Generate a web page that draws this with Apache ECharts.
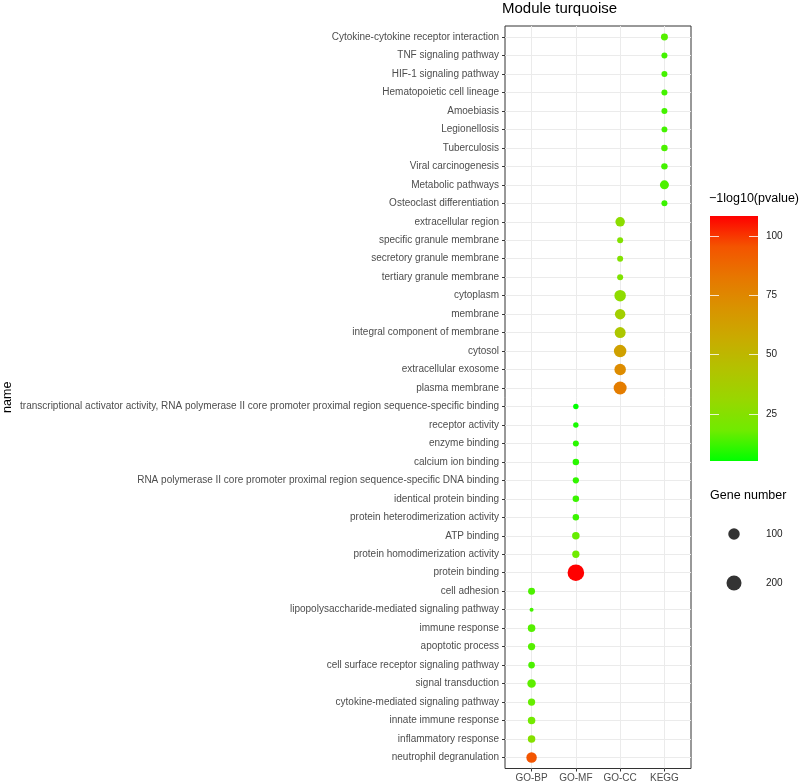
<!DOCTYPE html>
<html>
<head>
<meta charset="utf-8">
<script src="https://cdn.jsdelivr.net/npm/echarts@6/dist/echarts.min.js"></script>
<style>
html,body{margin:0;padding:0;background:#fff;}
#chart{width:800px;height:783px;}
</style>
</head>
<body>
<div id="chart"></div>
<script>
// ---------- data ----------
const groups = ['GO-BP', 'GO-MF', 'GO-CC', 'KEGG'];

// terms listed top to bottom
const termNames = [
  'Cytokine-cytokine receptor interaction',
  'TNF signaling pathway',
  'HIF-1 signaling pathway',
  'Hematopoietic cell lineage',
  'Amoebiasis',
  'Legionellosis',
  'Tuberculosis',
  'Viral carcinogenesis',
  'Metabolic pathways',
  'Osteoclast differentiation',
  'extracellular region',
  'specific granule membrane',
  'secretory granule membrane',
  'tertiary granule membrane',
  'cytoplasm',
  'membrane',
  'integral component of membrane',
  'cytosol',
  'extracellular exosome',
  'plasma membrane',
  'transcriptional activator activity, RNA polymerase II core promoter proximal region sequence-specific binding',
  'receptor activity',
  'enzyme binding',
  'calcium ion binding',
  'RNA polymerase II core promoter proximal region sequence-specific DNA binding',
  'identical protein binding',
  'protein heterodimerization activity',
  'ATP binding',
  'protein homodimerization activity',
  'protein binding',
  'cell adhesion',
  'lipopolysaccharide-mediated signaling pathway',
  'immune response',
  'apoptotic process',
  'cell surface receptor signaling pathway',
  'signal transduction',
  'cytokine-mediated signaling pathway',
  'innate immune response',
  'inflammatory response',
  'neutrophil degranulation'
];

const termGroups = [
  'KEGG','KEGG','KEGG','KEGG','KEGG','KEGG','KEGG','KEGG','KEGG','KEGG',
  'GO-CC','GO-CC','GO-CC','GO-CC','GO-CC','GO-CC','GO-CC','GO-CC','GO-CC','GO-CC',
  'GO-MF','GO-MF','GO-MF','GO-MF','GO-MF','GO-MF','GO-MF','GO-MF','GO-MF','GO-MF',
  'GO-BP','GO-BP','GO-BP','GO-BP','GO-BP','GO-BP','GO-BP','GO-BP','GO-BP','GO-BP'
];

// -log10(pvalue)
const logP = [
  15, 13, 13, 13, 13, 13, 14, 13, 14, 12,
  27, 24, 24, 23, 28, 36, 41, 62, 73, 80,
  5.2, 8, 10, 10, 11, 12, 12, 17, 18, 108.4,
  14, 13, 15, 15, 14, 16, 17, 19, 25, 95
];

// Gene number
const geneCount = [
  25, 16, 16, 16, 16, 15, 20, 20, 52, 16,
  60, 16, 16, 16, 101, 79, 90, 126, 101, 139,
  12, 12, 16, 20, 18, 20, 20, 31, 28, 255,
  25, 6, 31, 28, 22, 44, 28, 31, 31, 79
];

const colorTicks = [25, 50, 75, 100];
const sizeLegend = [100, 200];

// ---------- styling helpers ----------
const FONT = 'Liberation Sans, Arial, Helvetica, sans-serif';
const colorStops = ['#00FF00', '#70EB00', '#98D700', '#B3C200', '#C9AB00', '#D99300', '#E77700', '#F45400', '#FF0000'];
const scoreMin = Math.min(...logP);
const scoreMax = Math.max(...logP);
function sizeOf(n) {
  return 3.2 + 14.3 * Math.sqrt(Math.max(n - 5, 0) / 285);
}

const pointData = termNames.map((name, i) => [groups.indexOf(termGroups[i]), i, logP[i], geneCount[i], name]);
const termIdx = termNames.map((_, i) => i);
const groupIdx = groups.map((_, i) => i);

const chart = echarts.init(document.getElementById('chart'), null, { renderer: 'canvas' });

const option = {
  backgroundColor: '#ffffff',
  animation: false,
  textStyle: { fontFamily: FONT },
  title: [
    { text: 'Module turquoise', left: 502, top: 1, padding: 0,
      textStyle: { fontSize: 15, fontWeight: 'normal', color: '#000', fontFamily: FONT } },
    { text: '\u22121log10(pvalue)', left: 709, top: 192, padding: 0,
      textStyle: { fontSize: 12.5, fontWeight: 'normal', color: '#000', fontFamily: FONT } },
    { text: 'Gene number', left: 710, top: 489, padding: 0,
      textStyle: { fontSize: 12.5, fontWeight: 'normal', color: '#000', fontFamily: FONT } }
  ],
  grid: [
    { left: 502, right: 109, top: 26, bottom: 14, show: true, borderColor: '#333333', borderWidth: 1, backgroundColor: 'transparent' },
    { left: 710, width: 48, top: 216, height: 245 },
    { left: 710, width: 48, top: 509.5, height: 98 }
  ],
  xAxis: [
    { type: 'value', gridIndex: 0, min: -0.6, max: 3.6,
      axisLine: { show: false, onZero: false },
      axisTick: { show: true, length: 3, customValues: groupIdx, lineStyle: { color: '#333333' } },
      axisLabel: { customValues: groupIdx, formatter: v => groups[v] || '', margin: 4.5, fontSize: 10, color: '#4D4D4D', fontFamily: FONT },
      splitLine: { show: true, lineStyle: { color: '#EBEBEB', width: 1 } } },
    { type: 'category', gridIndex: 1, data: [''], show: false },
    { type: 'category', gridIndex: 2, data: [''], show: false }
  ],
  yAxis: [
    { type: 'value', gridIndex: 0, inverse: true, min: -0.6, max: termNames.length - 0.4,
      name: 'name', nameLocation: 'middle', nameRotate: 90, nameGap: 491,
      nameTextStyle: { fontSize: 12.5, color: '#000', fontFamily: FONT },
      axisLine: { show: false, onZero: false },
      axisTick: { show: true, length: 3, customValues: termIdx, lineStyle: { color: '#333333' } },
      axisLabel: { customValues: termIdx, formatter: v => termNames[v] || '', margin: 6, fontSize: 10, color: '#4D4D4D', fontFamily: FONT },
      splitLine: { show: true, lineStyle: { color: '#EBEBEB', width: 1 } } },
    { type: 'value', gridIndex: 1, position: 'right', min: scoreMin, max: scoreMax, z: 10,
      axisLine: { show: false },
      axisTick: { show: true, inside: true, length: 9, customValues: colorTicks, lineStyle: { color: 'rgba(255,255,255,0.8)', width: 1 } },
      axisLabel: { customValues: colorTicks, margin: 8, fontSize: 10, color: '#1a1a1a', fontFamily: FONT },
      splitLine: { show: false } },
    { type: 'value', gridIndex: 1, position: 'left', min: scoreMin, max: scoreMax, z: 10,
      axisLine: { show: false },
      axisTick: { show: true, inside: true, length: 9, customValues: colorTicks, lineStyle: { color: 'rgba(255,255,255,0.8)', width: 1 } },
      axisLabel: { show: false },
      splitLine: { show: false } },
    { type: 'category', gridIndex: 2, position: 'right', inverse: true, data: sizeLegend.map(String),
      axisLine: { show: false }, axisTick: { show: false },
      axisLabel: { margin: 8, fontSize: 10, color: '#1a1a1a', fontFamily: FONT },
      splitLine: { show: false } }
  ],
  visualMap: [
    { type: 'continuous', show: false, seriesIndex: 0, dimension: 2, min: scoreMin, max: scoreMax,
      inRange: { color: colorStops } }
  ],
  series: [
    { type: 'scatter', xAxisIndex: 0, yAxisIndex: 0, data: pointData,
      symbol: 'circle', symbolSize: v => sizeOf(v[3]), itemStyle: { opacity: 1 }, z: 3 },
    { type: 'bar', xAxisIndex: 1, yAxisIndex: 1, stack: 'cb', barWidth: '100%', silent: true,
      data: [scoreMin], itemStyle: { color: 'rgba(0,0,0,0)' } },
    { type: 'bar', xAxisIndex: 1, yAxisIndex: 1, stack: 'cb', barWidth: '100%', silent: true,
      data: [scoreMax - scoreMin],
      itemStyle: { color: new echarts.graphic.LinearGradient(0, 1, 0, 0,
        colorStops.map((c, i) => ({ offset: i / (colorStops.length - 1), color: c }))) } },
    { type: 'scatter', xAxisIndex: 2, yAxisIndex: 3, silent: true,
      data: sizeLegend.map((n, i) => [0, i, n]),
      symbol: 'circle', symbolSize: v => sizeOf(v[2]), itemStyle: { color: '#000' } }
  ]
};
chart.setOption(option);
</script>
</body>
</html>
